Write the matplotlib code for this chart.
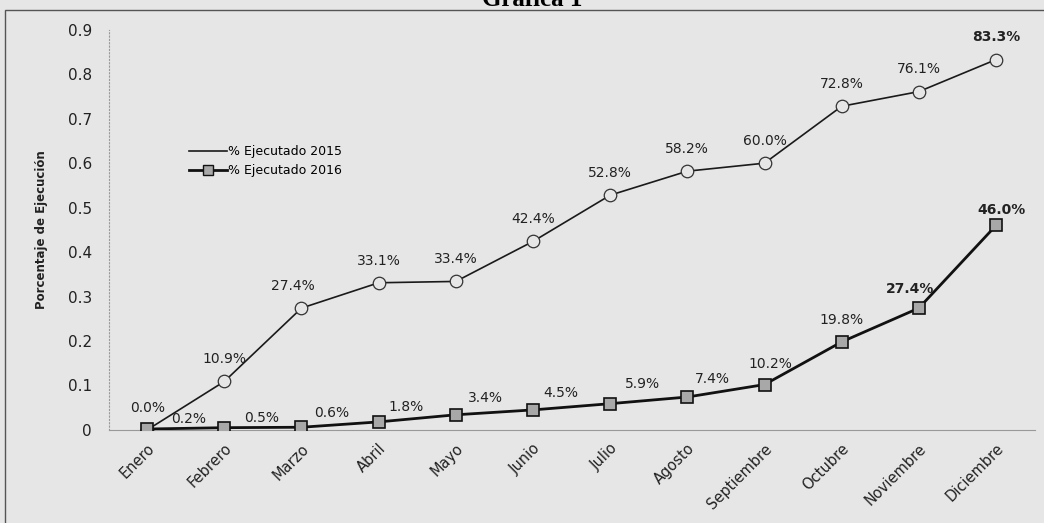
import matplotlib.pyplot as plt
from matplotlib.lines import Line2D
from matplotlib.patches import Rectangle

meses = ['Enero', 'Febrero', 'Marzo', 'Abril', 'Mayo', 'Junio', 'Julio',
         'Agosto', 'Septiembre', 'Octubre', 'Noviembre', 'Diciembre']
ejec_2015 = [0.000, 0.109, 0.274, 0.331, 0.334, 0.424, 0.528,
             0.582, 0.600, 0.728, 0.761, 0.833]
ejec_2016 = [0.002, 0.005, 0.006, 0.018, 0.034, 0.045, 0.059,
             0.074, 0.102, 0.198, 0.274, 0.460]

# label offsets in points (dx, dy), styling only
off_2015 = [(0, 16)] * 12
off_2015[2] = (-6, 16)
off_2016 = [(30, 7), (27, 7), (22, 10), (20, 11), (21, 12), (20, 12),
            (23, 14), (18, 13), (4, 15), (0, 16), (-6, 14), (4, 11)]
bold_2015 = [11]
bold_2016 = [10, 11]

bg = '#e6e6e6'
fig = plt.figure(figsize=(10.44, 5.23), dpi=100, facecolor=bg)
ax = fig.add_axes([0.104, 0.178, 0.887, 0.765])
ax.set_facecolor(bg)

x = list(range(len(meses)))
ax.plot(x, ejec_2015, color='#1a1a1a', lw=1.2, marker='o', ms=9,
        mfc=bg, mec='#333333', mew=0.9, zorder=3)
ax.plot(x, ejec_2016, color='#111111', lw=2.0, marker='s', ms=9,
        mfc='#a8a8a8', mec='#111111', mew=1.2, zorder=4)

for i, v in enumerate(ejec_2015):
    ax.annotate(f'{v*100:.1f}%', (i, v), xytext=off_2015[i],
                textcoords='offset points', ha='center', va='center',
                fontsize=10, color='#222222',
                fontweight='bold' if i in bold_2015 else 'normal')
for i, v in enumerate(ejec_2016):
    ax.annotate(f'{v*100:.1f}%', (i, v), xytext=off_2016[i],
                textcoords='offset points', ha='center', va='center',
                fontsize=10, color='#222222',
                fontweight='bold' if i in bold_2016 else 'normal')

ax.set_xlim(-0.5, len(meses) - 0.5)
ax.set_ylim(0, 0.9)
ax.set_yticks([0, 0.1, 0.2, 0.3, 0.4, 0.5, 0.6, 0.7, 0.8, 0.9])
ax.set_yticklabels(['0', '0.1', '0.2', '0.3', '0.4', '0.5', '0.6',
                    '0.7', '0.8', '0.9'], fontsize=11, color='#222222')
ax.set_xticks(x)
ax.set_xticklabels(meses, rotation=45, ha='right', rotation_mode='anchor',
                   fontsize=10.5, color='#222222')
ax.tick_params(axis='both', length=0, pad=12)
ax.tick_params(axis='x', pad=8)
for s in ['top', 'right']:
    ax.spines[s].set_visible(False)
ax.spines['left'].set_color('#999999')
ax.spines['left'].set_linestyle((0, (1, 2)))
ax.spines['bottom'].set_color('#999999')

ax.set_ylabel('Porcentaje de Ejecución', fontsize=8.5, fontweight='bold',
              color='#222222', labelpad=14)

handles = [Line2D([], [], color='#1a1a1a', lw=1.2),
           Line2D([], [], color='#111111', lw=2.0, marker='s', ms=7,
                  mfc='#a8a8a8', mec='#111111')]
ax.legend(handles, ['% Ejecutado 2015', '% Ejecutado 2016'],
          loc='upper left', bbox_to_anchor=(0.075, 0.74), frameon=False,
          fontsize=9, handlelength=3, handletextpad=0.1, labelspacing=0.5)

# title is cut at the top edge in the scanned original
fig.text(0.51, 0.989, 'Gráfica 1', ha='center', va='baseline',
         fontsize=18, fontweight='bold', family='Liberation Serif')
fig.patches.append(Rectangle((0.005, -0.01), 1.2, 0.99, transform=fig.transFigure,
                             fill=False, ec='#555555', lw=1.0))

fig.savefig('out.png', dpi=100, facecolor=bg)
